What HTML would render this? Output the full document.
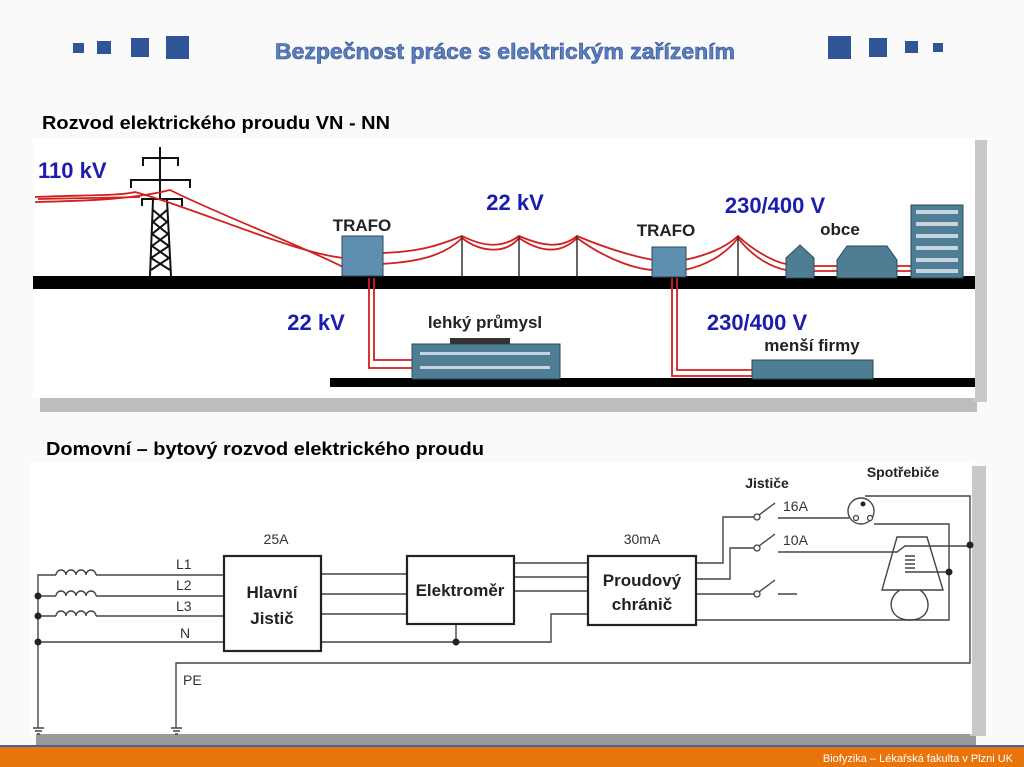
<!DOCTYPE html>
<html><head><meta charset="utf-8"><style>
html,body{margin:0;padding:0;background:#fff}
body{width:1024px;height:767px;overflow:hidden;position:relative;font-family:"Liberation Sans",sans-serif}
</style></head><body>
<svg width="1024" height="767" viewBox="0 0 1024 767" xmlns="http://www.w3.org/2000/svg" style="position:absolute;left:0;top:0">
<rect x="0" y="0" width="1024" height="767" fill="#fafafa"/>
<g fill="#2f5597">
<rect x="73" y="43" width="11" height="10"/><rect x="97" y="41" width="14" height="13"/>
<rect x="131" y="38" width="18" height="19"/><rect x="166" y="36" width="23" height="23"/>
<rect x="828" y="36" width="23" height="23"/><rect x="869" y="38" width="18" height="19"/>
<rect x="905" y="41" width="13" height="12"/><rect x="933" y="43" width="10" height="9"/>
</g>
<text x="275" y="59" textLength="460" lengthAdjust="spacingAndGlyphs" font-size="22" font-weight="bold" fill="#5b7fc0" stroke="#2f4f8f" stroke-width="0.6">Bezpečnost práce s elektrickým zařízením</text>
<text x="42" y="129" textLength="348" lengthAdjust="spacingAndGlyphs" font-size="18" font-weight="bold" fill="#000">Rozvod elektrického proudu VN - NN</text>

<rect x="40" y="396" width="937" height="16" fill="#bdbdbd"/>
<rect x="973" y="140" width="14" height="262" fill="#c8c8c8"/>
<rect x="33" y="138" width="942" height="260" fill="#fff"/>
<rect x="33" y="276" width="942" height="13" fill="#000"/>
<rect x="330" y="378" width="645" height="9" fill="#000"/>

<g stroke="#111" stroke-width="2" fill="none">
<line x1="160" y1="147" x2="160" y2="200"/>
<path d="M143 166 V158 H178 V166"/>
<path d="M131 188 V180 H190 V188"/>
<path d="M142 206 V199 H182 V206"/>
<path d="M153 200 L150 276 M167 200 L171 276"/>
<path d="M153 210 L167 222 L152 234 L169 246 L151 258 L170 270 M167 210 L153 222 L168 234 L152 246 L169 258 L151 270"/>
</g>
<g stroke="#d02020" stroke-width="1.8" fill="none">
<path d="M35 197 C80 195 120 196 135 192 C200 210 300 255 345 258"/>
<path d="M35 202 C80 201 130 200 170 190 C220 215 300 245 345 268"/>
<path d="M38 199 L140 197"/>
<path d="M380 253 C420 252 440 245 462 236 C480 245 500 250 519 236 C540 245 560 250 577 236 C610 250 640 258 655 260"/>
<path d="M380 264 C420 262 445 255 462 238 C480 252 505 255 519 238 C540 252 560 255 577 238 C610 262 640 270 655 270"/>
<path d="M684 260 C705 256 725 248 738 236 C755 252 775 262 786 264"/>
<path d="M684 270 C705 266 725 255 738 238 C755 260 775 268 786 270"/>
<path d="M814 266 H837 M814 271 H837 M897 266 H911 M897 271 H911"/>
<path d="M369 278 V368 H412 M374 278 V360 H412"/>
<path d="M672 278 V376 H752 M677 278 V370 H752"/>
</g>
<g stroke="#333" stroke-width="1.5">
<line x1="462" y1="236" x2="462" y2="276"/><line x1="519" y1="236" x2="519" y2="276"/>
<line x1="577" y1="236" x2="577" y2="276"/><line x1="738" y1="236" x2="738" y2="276"/>
</g>
<rect x="342" y="236" width="41" height="40" fill="#5d8fb0" stroke="#345" stroke-width="1"/>
<rect x="652" y="247" width="34" height="30" fill="#5d8fb0" stroke="#345" stroke-width="1"/>
<g fill="#4f7d94" stroke="#2a4a5a" stroke-width="1">
<path d="M786 258 L800 245 L814 258 V278 H786Z"/>
<path d="M837 260 L847 246 H887 L897 260 V278 H837Z"/>
<rect x="911" y="205" width="52" height="73"/>
<rect x="412" y="344" width="148" height="35"/>
<rect x="752" y="360" width="121" height="19"/>
</g>
<g fill="#c5d5e0">
<rect x="916" y="210" width="42" height="4"/><rect x="916" y="222" width="42" height="4"/><rect x="916" y="234" width="42" height="4"/><rect x="916" y="246" width="42" height="4"/><rect x="916" y="258" width="42" height="4"/><rect x="916" y="269" width="42" height="4"/>
<rect x="420" y="352" width="130" height="3"/><rect x="420" y="366" width="130" height="3"/>
</g>
<rect x="450" y="338" width="60" height="6" fill="#333"/>
<g font-weight="bold">
<text x="38" y="178" font-size="22" fill="#1c1cb0">110 kV</text>
<text x="515" y="210" font-size="22" fill="#1c1cb0" text-anchor="middle">22 kV</text>
<text x="775" y="213" font-size="22" fill="#1c1cb0" text-anchor="middle">230/400 V</text>
<text x="316" y="330" font-size="22" fill="#1c1cb0" text-anchor="middle">22 kV</text>
<text x="757" y="330" font-size="22" fill="#1c1cb0" text-anchor="middle">230/400 V</text>
<text x="362" y="231" font-size="17" fill="#222" text-anchor="middle">TRAFO</text>
<text x="666" y="236" font-size="17" fill="#222" text-anchor="middle">TRAFO</text>
<text x="840" y="235" font-size="17" fill="#222" text-anchor="middle">obce</text>
<text x="485" y="328" font-size="17" fill="#222" text-anchor="middle">lehký průmysl</text>
<text x="812" y="351" font-size="17" fill="#222" text-anchor="middle">menší firmy</text>
</g>

<text x="46" y="455" textLength="438" lengthAdjust="spacingAndGlyphs" font-size="18" font-weight="bold" fill="#000">Domovní – bytový rozvod elektrického proudu</text>

<rect x="36" y="733" width="940" height="12" fill="#9a9a9a"/>
<rect x="970" y="466" width="16" height="270" fill="#c8c8c8"/>
<rect x="30" y="462" width="942" height="272" fill="#fff"/>

<g stroke="#444" stroke-width="1.4" fill="none">
<path d="M38 728 V575 H56"/>
<path d="M56 575 a5 5 0 0 1 10 0 a5 5 0 0 1 10 0 a5 5 0 0 1 10 0 a5 5 0 0 1 10 0"/>
<path d="M56 596 a5 5 0 0 1 10 0 a5 5 0 0 1 10 0 a5 5 0 0 1 10 0 a5 5 0 0 1 10 0"/>
<path d="M56 616 a5 5 0 0 1 10 0 a5 5 0 0 1 10 0 a5 5 0 0 1 10 0 a5 5 0 0 1 10 0"/>
<path d="M38 596 H56 M38 616 H56"/>
<path d="M96 575 H224 M96 596 H224 M96 616 H224 M38 642 H224"/>
<path d="M321 574 H407 M321 594 H407 M321 614 H407 M321 642 H551 V614 H588"/>
<path d="M456 624 V642"/>
<path d="M514 563 H588 M514 577 H588 M514 591 H588"/>
<path d="M176 728 V663 H970 V496 H865"/>
<path d="M33 728 H44 M35 731 H42 M37 734 H40 M171 728 H182 M173 731 H180 M175 734 H178"/>
<path d="M696 563 H723 V517 H754 M696 579 H730 V548 H754 M696 594 H754"/>
<path d="M759 515 L775 503 M759 546 L775 534 M759 592 L775 580"/>
<path d="M778 518 H849 M778 552 H897 L905 546 H970 M778 594 H797"/>
<path d="M696 620 H949 V524 H874"/>
<path d="M905 572 H949"/>
<circle cx="861" cy="511" r="13"/>
<path d="M897 537 H927 L943 590 H882 Z"/>
<path d="M900 590 C886 598 888 620 910 620 C932 620 932 598 920 590"/>
<path d="M905 556 H915 M905 560 H915 M905 564 H915 M905 568 H915"/>
</g>
<g fill="#fff" stroke="#444" stroke-width="1.3">
<circle cx="757" cy="517" r="3"/><circle cx="757" cy="548" r="3"/><circle cx="757" cy="594" r="3"/>
<circle cx="856" cy="518" r="2.5"/><circle cx="870" cy="518" r="2.5"/>
</g>
<g fill="#222">
<circle cx="38" cy="596" r="3.5"/><circle cx="38" cy="616" r="3.5"/><circle cx="38" cy="642" r="3.5"/>
<circle cx="456" cy="642" r="3.5"/><circle cx="970" cy="545" r="3.5"/><circle cx="949" cy="572" r="3.5"/>
<circle cx="863" cy="504" r="2.5"/>
</g>
<g fill="#fff" stroke="#222" stroke-width="2.2">
<rect x="224" y="556" width="97" height="95"/>
<rect x="407" y="556" width="107" height="68"/>
<rect x="588" y="556" width="108" height="69"/>
</g>
<g font-size="14" fill="#333">
<text x="176" y="569">L1</text><text x="176" y="590">L2</text><text x="176" y="611">L3</text><text x="180" y="638">N</text>
<text x="183" y="685">PE</text>
<text x="276" y="544" text-anchor="middle">25A</text>
<text x="642" y="544" text-anchor="middle">30mA</text>
<text x="783" y="511">16A</text><text x="783" y="545">10A</text>
</g>
<g font-weight="bold" fill="#222">
<text x="272" y="598" font-size="17" text-anchor="middle">Hlavní</text>
<text x="272" y="624" font-size="17" text-anchor="middle">Jistič</text>
<text x="460" y="596" font-size="17" text-anchor="middle">Elektroměr</text>
<text x="642" y="586" font-size="17" text-anchor="middle">Proudový</text>
<text x="642" y="610" font-size="17" text-anchor="middle">chránič</text>
<text x="767" y="488" font-size="14" text-anchor="middle">Jističe</text>
<text x="903" y="477" font-size="14" text-anchor="middle">Spotřebiče</text>
</g>

<rect x="0" y="745" width="1024" height="2" fill="#4a5f9a"/>
<rect x="0" y="747" width="1024" height="20" fill="#e8740c"/>
<text x="1013" y="762" font-size="11" fill="#fff" text-anchor="end">Biofyzika – Lékařská fakulta v Plzni UK</text>
</svg>
</body></html>
